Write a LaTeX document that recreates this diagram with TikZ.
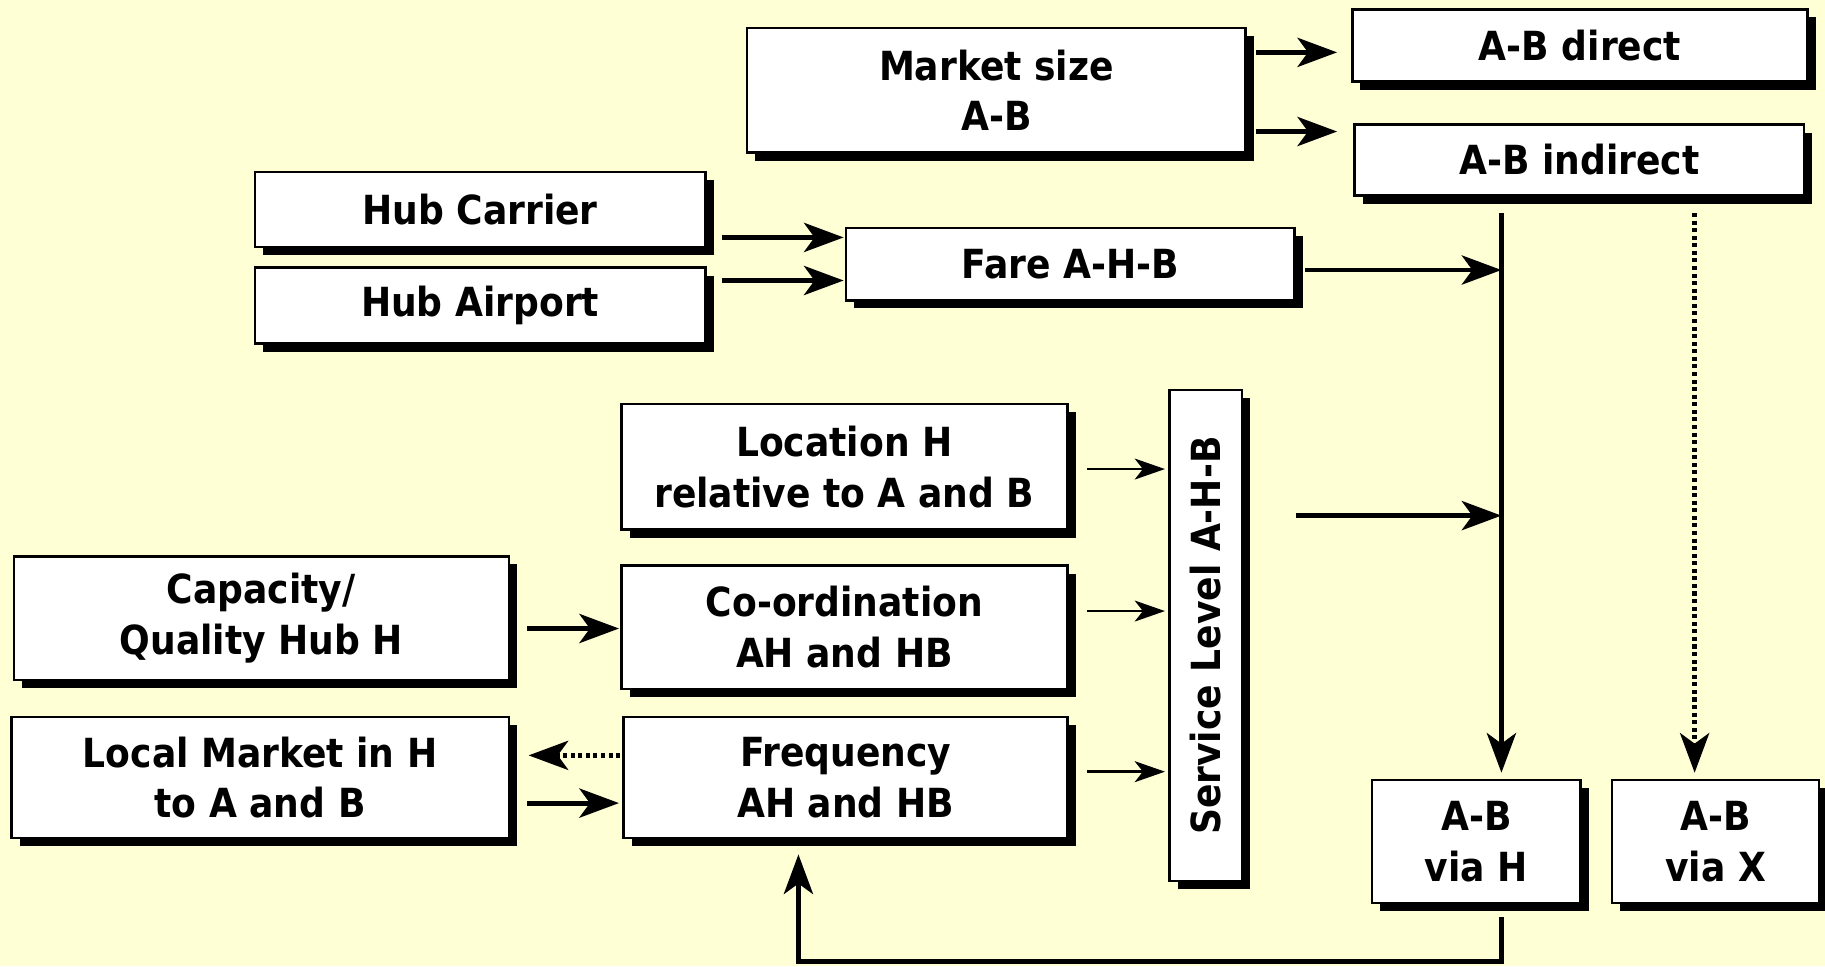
\documentclass[tikz,border=0pt]{standalone}
\usepackage{fontspec}
\setmainfont{DejaVu Sans Condensed}
\usetikzlibrary{arrows.meta,shadows,calc}
\definecolor{bgc}{RGB}{255,255,214}
\begin{document}
\begin{tikzpicture}[x=0.01cm,y=-0.01cm,
  box/.style={draw=black, line width=0.6pt, fill=white, inner sep=0pt, align=center,
    font=\fontsize{9.8}{12.4}\selectfont\bfseries,
    drop shadow={shadow xshift=0.07cm, shadow yshift=-0.07cm, fill=black, opacity=1}},
  lbl/.style={inner sep=0pt, align=center, font=\fontsize{9.8}{12.4}\selectfont\bfseries},
  thickarr/.style={line width=1.2pt, -{Stealth[length=0.34cm,width=0.25cm,inset=0.09cm]}},
  thinarr/.style={line width=0.6pt, -{Stealth[length=0.26cm,width=0.18cm,inset=0.07cm]}},
  dots/.style={dash pattern=on 0.035cm off 0.03cm}
]
\fill[bgc] (0,0) rectangle (1568,830);
\useasboundingbox (0,0) rectangle (1568,830);

% boxes
\node[box, minimum width=4.28cm, minimum height=1.07cm] (mkt) at (856,77.5) {Market size\\A-B};
\node[box, minimum width=3.91cm, minimum height=0.62cm] (direct) at (1357.5,39) {A-B direct};
\node[box, minimum width=3.86cm, minimum height=0.61cm] (indirect) at (1357,137.5) {A-B indirect};
\node[box, minimum width=3.87cm, minimum height=0.64cm] (hubc) at (412.5,180) {Hub Carrier};
\node[box, minimum width=3.87cm, minimum height=0.65cm] (huba) at (412.5,262.5) {Hub Airport};
\node[box, minimum width=3.85cm, minimum height=0.62cm] (fare) at (919.5,227) {Fare A-H-B};
\node[box, minimum width=3.83cm, minimum height=1.08cm] (loc) at (725.5,401) {Location H\\relative to A and B};
\node[box, minimum width=3.83cm, minimum height=1.06cm] (coord) at (725.5,539) {Co-ordination\\AH and HB};
\node[box, minimum width=3.81cm, minimum height=1.04cm] (freq) at (726.5,668) {Frequency\\AH and HB};
\node[box, minimum width=0.62cm, minimum height=4.22cm] (svc) at (1036,546) {};
\node[lbl, rotate=90] (svct) at (svc) {Service Level A-H-B};
\node[box, minimum width=4.25cm, minimum height=1.06cm] (cap) at (224.5,531) {Capacity/\\Quality Hub H};
\node[box, minimum width=4.27cm, minimum height=1.04cm] (local) at (223.5,668) {Local Market in H\\to A and B};
\node[box, minimum width=1.79cm, minimum height=1.06cm] (viah) at (1268.5,723) {A-B\\via H};
\node[box, minimum width=1.78cm, minimum height=1.06cm] (viax) at (1474,723) {A-B\\via X};

% helper coordinates
\coordinate (vtop) at (1290,183);
\coordinate (dtop) at (1456,183);
\coordinate (fb) at (1290,826);
\coordinate (fbl) at (686,826);

% connectors
\draw[thickarr, shorten <=0.08cm, shorten >=0.12cm] (mkt.east |- 0,45) -- (direct.west |- 0,45);
\draw[thickarr, shorten <=0.08cm, shorten >=0.14cm] (mkt.east |- 0,113) -- (indirect.west |- 0,113);
\draw[thickarr, shorten <=0.13cm, shorten >=0.01cm] (hubc.east |- 0,204) -- (fare.west |- 0,204);
\draw[thickarr, shorten <=0.13cm, shorten >=0.01cm] (huba.east |- 0,241) -- (fare.west |- 0,241);
\draw[thickarr, shorten <=0.08cm] (fare.east |- 0,232) -- (vtop |- 0,232);
\draw[thickarr, shorten <=0.45cm] (svc.east |- 0,443) -- (vtop |- 0,443);
\draw[thickarr, shorten >=0.05cm] (vtop) -- (vtop |- viah.north);
\draw[thickarr, dots, shorten >=0.05cm] (dtop) -- (dtop |- viax.north);

\draw[thinarr, shorten <=0.16cm, shorten >=0.03cm] (loc.east |- 0,403) -- (svc.west |- 0,403);
\draw[thinarr, shorten <=0.16cm, shorten >=0.03cm] (coord.east |- 0,525) -- (svc.west |- 0,525);
\draw[thinarr, shorten <=0.16cm, shorten >=0.03cm] (freq.east |- 0,663) -- (svc.west |- 0,663);

\draw[thickarr, shorten <=0.15cm, shorten >=0.01cm] (cap.east |- 0,540) -- (coord.west |- 0,540);
\draw[thickarr, dots, shorten <=0.02cm, shorten >=0.16cm] (freq.west |- 0,649) -- (local.east |- 0,649);
\draw[thickarr, shorten <=0.15cm, shorten >=0.03cm] (local.east |- 0,690) -- (freq.west |- 0,690);

\draw[thickarr, shorten <=0.11cm, shorten >=0.13cm] (viah.south -| fb) -- (fb) -- (fbl) -- (fbl |- freq.south);
\end{tikzpicture}
\end{document}
